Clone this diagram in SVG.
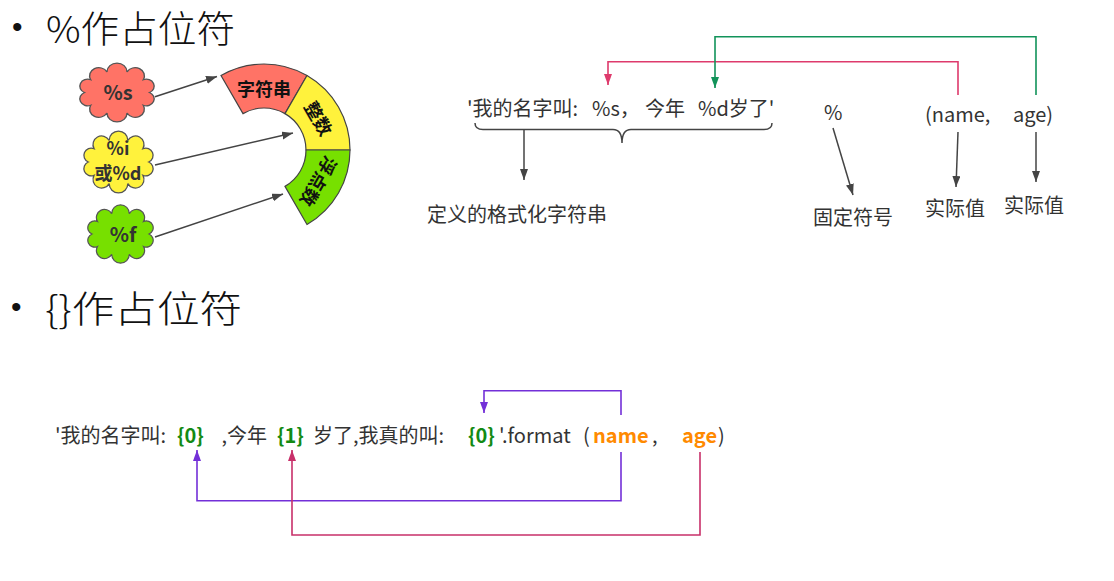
<svg xmlns="http://www.w3.org/2000/svg" xmlns:xlink="http://www.w3.org/1999/xlink" width="1114" height="581" viewBox="0 0 1114 581">
<defs>
<style>
text{font-family:"Noto Sans CJK SC","Liberation Sans",sans-serif;}
.title{font-size:37px;fill:#111;font-weight:300;}
.bullet{font-family:"Liberation Sans",sans-serif;font-size:30px;fill:#111;}
.cloudtxt{font-size:20px;font-weight:bold;fill:#333;text-anchor:middle;}
.small{font-size:18px;}
.seg{stroke:#444;stroke-width:1.2;}
.segtxt{font-size:18px;font-weight:bold;fill:#111;text-anchor:middle;dominant-baseline:central;}
.t{font-size:20px;fill:#333;}
.g{fill:#138a13;font-weight:bold;}
.o{fill:#ff8a00;font-weight:bold;}
.cloud{stroke:#555;stroke-width:1.2;}
.ln{fill:none;stroke:#444;stroke-width:1.5;}
.red{fill:none;stroke:#de3a6c;stroke-width:1.6;}
.grn{fill:none;stroke:#12935a;stroke-width:1.6;}
.pur{fill:none;stroke:#7330d8;stroke-width:1.6;}
.crm{fill:none;stroke:#c8306a;stroke-width:1.6;}
</style>
<path id="cloudshape" d="M28,0 A1,1 0 0 1 22.65,12.35 A1,1 0 0 1 8.65,19.97 A1,1 0 0 1 -8.65,19.97 A1,1 0 0 1 -22.65,12.35 A1,1 0 0 1 -28,0 A1,1 0 0 1 -22.65,-12.35 A1,1 0 0 1 -8.65,-19.97 A1,1 0 0 1 8.65,-19.97 A1,1 0 0 1 22.65,-12.35 A1,1 0 0 1 28,0 Z"/>
<marker id="ah" markerUnits="userSpaceOnUse" markerWidth="12" markerHeight="10" refX="11" refY="4" orient="auto"><path d="M0,0 L11,4 L0,8 Z" fill="#444"/></marker>
<marker id="ahr" markerUnits="userSpaceOnUse" markerWidth="12" markerHeight="10" refX="11" refY="4" orient="auto"><path d="M0,0 L11,4 L0,8 Z" fill="#de3a6c"/></marker>
<marker id="ahg" markerUnits="userSpaceOnUse" markerWidth="12" markerHeight="10" refX="11" refY="4" orient="auto"><path d="M0,0 L11,4 L0,8 Z" fill="#12935a"/></marker>
<marker id="ahp" markerUnits="userSpaceOnUse" markerWidth="12" markerHeight="10" refX="11" refY="4" orient="auto"><path d="M0,0 L11,4 L0,8 Z" fill="#7330d8"/></marker>
<marker id="ahc" markerUnits="userSpaceOnUse" markerWidth="12" markerHeight="10" refX="11" refY="4" orient="auto"><path d="M0,0 L11,4 L0,8 Z" fill="#c8306a"/></marker>
</defs>
<rect width="1114" height="581" fill="#fff"/>

<g id="title1">
<text class="bullet" x="12" y="37">•</text>
<text class="title" x="46" y="43" textLength="189" lengthAdjust="spacingAndGlyphs">%作占位符</text>
</g>

<g id="cloud-s">
<use xlink:href="#cloudshape" href="#cloudshape" class="cloud" fill="#ff7366" transform="translate(117,92.5) scale(1.16,1.03)"/>
<text class="cloudtxt" x="118" y="100">%s</text>
</g>
<g id="cloud-d">
<use xlink:href="#cloudshape" href="#cloudshape" class="cloud" fill="#fff23c" transform="translate(118.5,162) scale(1.08,1.08)"/>
<text class="cloudtxt small" x="118" y="155">%i</text>
<text class="cloudtxt small" x="118" y="180">或%d</text>
</g>
<g id="cloud-f">
<use xlink:href="#cloudshape" href="#cloudshape" class="cloud" fill="#77e000" transform="translate(120.5,234) scale(1.02,1.02)"/>
<text class="cloudtxt" x="123" y="242">%f</text>
</g>

<g id="seg-string">
<path class="seg" fill="#ff7366" d="M221,75.52 A86,86 0 0 1 307,75.52 L285,113.63 A42,42 0 0 0 243,113.63 Z"/>
<text class="segtxt" x="264" y="88">字符串</text>
</g>
<g id="seg-int">
<path class="seg" fill="#fff23c" d="M307,75.52 A86,86 0 0 1 350,150 L306,150 A42,42 0 0 0 285,113.63 Z"/>
<text class="segtxt" transform="translate(319.4,118) rotate(60)">整数</text>
</g>
<g id="seg-float">
<path class="seg" fill="#77e000" d="M350,150 A86,86 0 0 1 307,224.48 L285,186.37 A42,42 0 0 0 306,150 Z"/>
<text class="segtxt" transform="translate(319.4,182) rotate(120)">浮点数</text>
</g>

<g id="fmt-string">
<text class="t" y="116"><tspan x="467">'我的名字叫: </tspan><tspan x="592">%s，</tspan><tspan x="645">今年</tspan><tspan x="698">%d岁了'</tspan></text>
</g>
<g id="brace">
<path class="ln" stroke-width="1.3" d="M475,123 Q475,129.5 483,129.5 L613,129.5 Q622,129.5 622,143 Q622,129.5 631,129.5 L764,129.5 Q772,129.5 772,123"/>
</g>
<g id="percent"><text class="t" x="824" y="120">%</text></g>
<g id="args"><text class="t" y="122"><tspan x="925">(name,</tspan><tspan x="1013">age)</tspan></text></g>
<g id="label-fmt"><text class="t" x="427" y="222">定义的格式化字符串</text></g>
<g id="label-fixed"><text class="t" x="813" y="225">固定符号</text></g>
<g id="label-val1"><text class="t" x="925" y="216">实际值</text></g>
<g id="label-val2"><text class="t" x="1004" y="213">实际值</text></g>

<g id="title2">
<text class="bullet" x="11" y="317">•</text>
<text class="title" x="45" y="323" textLength="197" lengthAdjust="spacingAndGlyphs">{}作占位符</text>
</g>

<g id="format-line">
<text class="t" y="443"><tspan x="55">'我的名字叫: </tspan><tspan class="g" x="177">{0}</tspan><tspan x="217"> ,今年 </tspan><tspan class="g" x="277">{1}</tspan><tspan x="313">岁了,我真的叫: </tspan><tspan class="g" x="468">{0}</tspan><tspan x="499">'.format</tspan><tspan x="583">(</tspan><tspan class="o" x="593">name</tspan><tspan x="652">,</tspan><tspan class="o" x="682">age</tspan><tspan x="718">)</tspan></text>
</g>

<g id="connectors">
<line class="ln" x1="155" y1="96.7" x2="217" y2="76.5" marker-end="url(#ah)"/>
<line class="ln" x1="155" y1="165" x2="293" y2="133" marker-end="url(#ah)"/>
<line class="ln" x1="155" y1="237" x2="283" y2="194" marker-end="url(#ah)"/>
<path class="red" d="M958,95 V61.7 H608 V85" marker-end="url(#ahr)"/>
<path class="grn" d="M1036,95 V36.7 H715 V88" marker-end="url(#ahg)"/>
<line class="ln" x1="524" y1="130" x2="524" y2="180" marker-end="url(#ah)"/>
<line class="ln" x1="833" y1="128" x2="853" y2="195" marker-end="url(#ah)"/>
<line class="ln" x1="958" y1="132" x2="956" y2="187" marker-end="url(#ah)"/>
<line class="ln" x1="1036" y1="132" x2="1036" y2="182" marker-end="url(#ah)"/>
<path class="pur" d="M621,415 V390.7 H484 V413" marker-end="url(#ahp)"/>
<path class="pur" d="M621,452 V500.7 H197 V450" marker-end="url(#ahp)"/>
<path class="crm" d="M700,452 V535 H292 V450" marker-end="url(#ahc)"/>
</g>
</svg>
